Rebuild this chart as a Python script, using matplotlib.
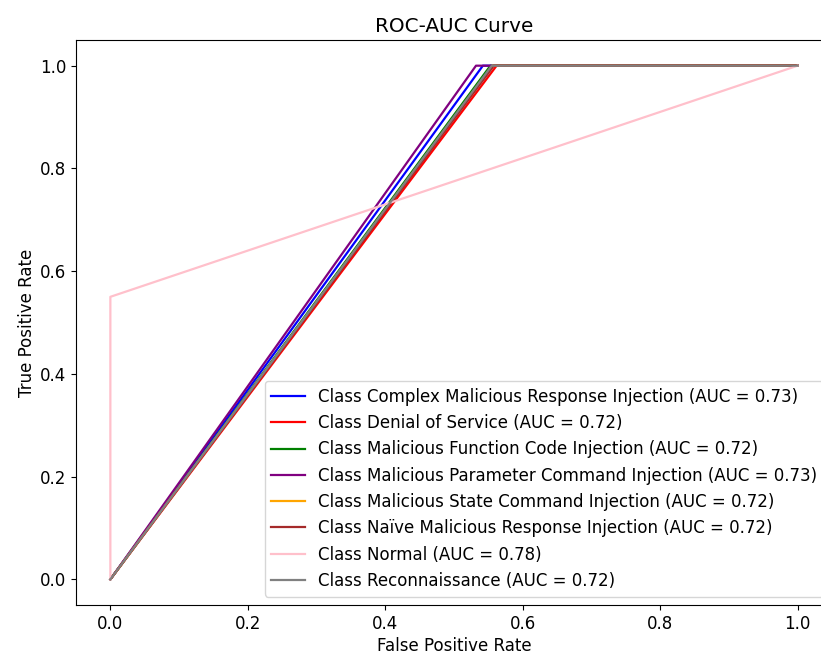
import matplotlib.pyplot as plt

classes = [
    "Complex Malicious Response Injection",
    "Denial of Service",
    "Malicious Function Code Injection",
    "Malicious Parameter Command Injection",
    "Malicious State Command Injection",
    "Naïve Malicious Response Injection",
    "Normal",
    "Reconnaissance",
]
colors = ["blue", "red", "green", "purple", "orange", "brown", "pink", "gray"]
auc_values = [0.73, 0.72, 0.72, 0.73, 0.72, 0.72, 0.78, 0.72]

# ROC points per class (false positive rate, true positive rate)
fpr_list = [
    [0.0, 0.542, 1.0],
    [0.0, 0.562, 1.0],
    [0.0, 0.553, 1.0],
    [0.0, 0.532, 1.0],
    [0.0, 0.556, 1.0],
    [0.0, 0.558, 1.0],
    [0.0, 0.0, 1.0],
    [0.0, 0.555, 1.0],
]
tpr_list = [
    [0.0, 1.0, 1.0],
    [0.0, 1.0, 1.0],
    [0.0, 1.0, 1.0],
    [0.0, 1.0, 1.0],
    [0.0, 1.0, 1.0],
    [0.0, 1.0, 1.0],
    [0.0, 0.55, 1.0],
    [0.0, 1.0, 1.0],
]

plt.rcParams["font.size"] = 12
fig = plt.figure(figsize=(8.21, 6.54), dpi=100)
ax = fig.add_axes([76 / 821, 49 / 654, 756 / 821, 565 / 654])

for name, color, auc, fpr, tpr in zip(classes, colors, auc_values, fpr_list, tpr_list):
    ax.plot(fpr, tpr, color=color, linewidth=1.6, label=f"Class {name} (AUC = {auc:.2f})")

ax.set_xlabel("False Positive Rate", labelpad=3)
ax.set_ylabel("True Positive Rate", labelpad=3)
ax.set_title("ROC-AUC Curve")
ax.legend(loc="lower right", labelspacing=0.5)

fig.savefig("out.png", dpi=100)
